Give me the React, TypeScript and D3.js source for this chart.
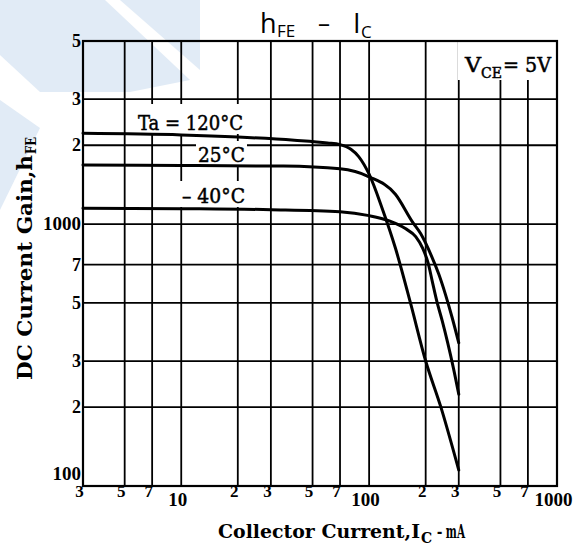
import React from "react";
import * as d3 from "d3";

const xTickValues = [3, 5, 7, 10, 20, 30, 50, 70, 100, 200, 300, 500, 700, 1000];
const xTickLabels = ["3", "5", "7", "10", "2", "3", "5", "7", "100", "2", "3", "5", "7", "1000"];
const yTickValues = [100, 200, 300, 500, 700, 1000, 2000, 3000, 5000];
const yTickLabels = ["100", "2", "3", "5", "7", "1000", "2", "3", "5"];

const current120 = [3, 10, 20, 40, 60, 70, 80, 88, 100, 117, 138, 166, 200, 241, 300];
const gain120 = [2220, 2190, 2150, 2090, 2040, 2010, 1930, 1810, 1550, 1155, 810, 500, 300, 200, 115];

const current25 = [3, 10, 35, 70, 100, 138, 170, 188, 214, 235, 255, 277, 300];
const gain25 = [1680, 1675, 1665, 1625, 1515, 1300, 1020, 920, 760, 643, 538, 438, 352];

const currentM40 = [3, 10, 30, 70, 100, 128, 156, 177, 193, 206, 217, 229, 245, 262, 281, 300];
const gainM40 = [1150, 1145, 1135, 1115, 1077, 1028, 961, 895, 807, 711, 603, 509, 427, 352, 282, 224];

const serif = "'DejaVu Serif', serif";
const tickFont = "'Liberation Serif', serif";

export default function App() {
  const x = d3.scaleLog().domain([3, 1000]).range([83, 557]);
  const y = d3.scaleLog().domain([100, 5000]).range([486, 41]);
  const line = d3
    .line<[number, number]>()
    .x((d) => x(d[0]))
    .y((d) => y(d[1]))
    .curve(d3.curveMonotoneX);
  const series = [
    { c: current120, g: gain120 },
    { c: current25, g: gain25 },
    { c: currentM40, g: gainM40 },
  ];
  const [x0, x1] = x.range();
  const [yb, yt] = y.range();
  const decade = (v: number) => v === 10 || v === 100 || v === 1000;

  return (
    <svg
      width={577}
      height={545}
      style={{ position: "absolute", left: 0, top: 0, background: "#fff" }}
    >
      {/* watermark */}
      <g fill="#e1ebf6">
        <polygon points="0,0 105,0 190,80 130,92 40,92 0,55" />
        <polygon points="120,0 200,0 200,70" />
        <polygon points="0,100 40,128 0,210" />
      </g>

      {/* grid */}
      <g stroke="#000" strokeWidth={1.8}>
        {xTickValues.map((v) => (
          <line key={"vx" + v} x1={x(v)} x2={x(v)} y1={yt} y2={yb} />
        ))}
        {yTickValues.map((v) => (
          <line key={"hy" + v} x1={x0} x2={x1} y1={y(v)} y2={y(v)} />
        ))}
      </g>

      {/* label boxes */}
      <g fill="#fff">
        <rect x={128} y={104} width={134} height={30} />
        <rect x={196} y={141} width={51} height={24} />
        <rect x={180} y={181} width={69} height={26} />
        <rect x={458} y={42} width={98} height={38} />
      </g>

      <rect x={x0} y={yt} width={x1 - x0} height={yb - yt} fill="none" stroke="#000" strokeWidth={2.2} />

      {/* curves */}
      <g fill="none" stroke="#000" strokeWidth={3} strokeLinecap="round">
        {series.map((s, i) => (
          <path key={i} d={line(s.c.map((c, j) => [c, s.g[j]]) as [number, number][]) || ""} />
        ))}
      </g>

      {/* x tick labels */}
      <g fontFamily={tickFont} fontWeight="bold" textAnchor="middle">
        {xTickValues.map((v, i) => (
          <text
            key={"xt" + v}
            x={x(v) - 3.5}
            y={decade(v) ? 506 : 497}
            fontSize={decade(v) ? 19 : 17}
          >
            {xTickLabels[i]}
          </text>
        ))}
      </g>

      {/* y tick labels */}
      <g fontFamily={tickFont} fontWeight="bold" textAnchor="end">
        {yTickValues.map((v, i) => (
          <text
            key={"yt" + v}
            x={81}
            y={v === 100 ? y(v) - 6 : y(v) + 6}
            fontSize={v === 100 || v === 1000 ? 19 : 18}
          >
            {yTickLabels[i]}
          </text>
        ))}
      </g>

      {/* title */}
      <g fontFamily="'Open Sans', sans-serif" fill="#000">
        <text x={260} y={33} fontSize={27}>h</text>
        <text x={277} y={37} fontSize={17}>FE</text>
        <text x={318} y={32} fontSize={24}>–</text>
        <text x={353} y={33} fontSize={27}>I</text>
        <text x={361} y={38} fontSize={17}>C</text>
      </g>

      {/* annotations */}
      <g fontFamily={serif} fill="#000" stroke="#000" strokeWidth={0.5}>
        <text x={138} y={130} fontSize={20} textLength={105} lengthAdjust="spacingAndGlyphs">Ta = 120°C</text>
        <text x={198} y={162} fontSize={20} textLength={47} lengthAdjust="spacingAndGlyphs">25°C</text>
        <text x={182} y={203} fontSize={20} textLength={63} lengthAdjust="spacingAndGlyphs">– 40°C</text>
        <text x={465} y={72} fontSize={20} textLength={16} lengthAdjust="spacingAndGlyphs">V</text>
        <text x={481} y={78} fontSize={15} textLength={21} lengthAdjust="spacingAndGlyphs">CE</text>
        <text x={503} y={72} fontSize={20} textLength={48} lengthAdjust="spacingAndGlyphs">= 5V</text>
      </g>

      {/* axis titles */}
      <g fontFamily={serif} fontWeight="bold" fill="#000">
        <text x={218} y={538} fontSize={19} textLength={202} lengthAdjust="spacingAndGlyphs">Collector Current,I</text>
        <text x={421} y={543} fontSize={14}>C</text>
        <text x={437} y={538} fontSize={19} textLength={28} lengthAdjust="spacingAndGlyphs">– mA</text>
        <g transform="translate(32,380) rotate(-90)">
          <text x={0} y={0} fontSize={20} textLength={225} lengthAdjust="spacingAndGlyphs">DC Current Gain,h</text>
          <text x={226} y={4} fontSize={14} textLength={17} lengthAdjust="spacingAndGlyphs">FE</text>
        </g>
      </g>
    </svg>
  );
}
